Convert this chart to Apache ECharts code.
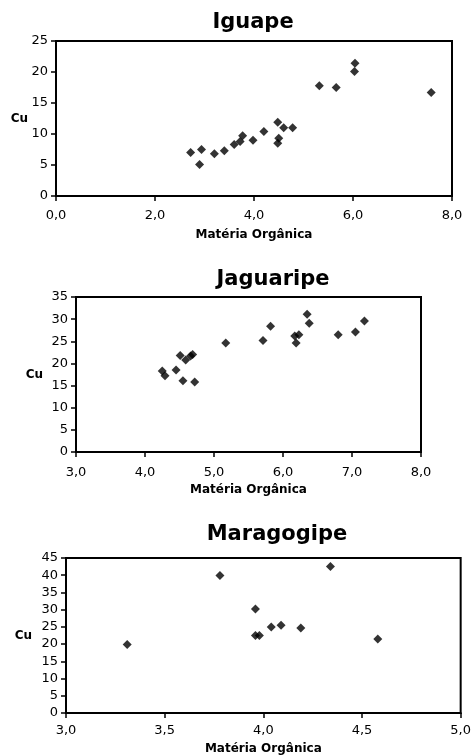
<!DOCTYPE html>
<html>
<head>
<meta charset="utf-8">
<script src="https://cdn.jsdelivr.net/npm/echarts@6/dist/echarts.min.js"></script>
<style>
html,body{margin:0;padding:0;background:#fff;}
#chart{width:474px;height:756px;}
</style>
</head>
<body>
<div id="chart"></div>
<script>
// ---- Data ----
const titles = ["Iguape", "Jaguaripe", "Maragogipe"];
const xAxisName = "Matéria Orgânica";
const yAxisName = "Cu";

const iguapeMO = [2.72, 2.90, 2.94, 3.20, 3.40, 3.60, 3.72, 3.77, 3.98, 4.20, 4.48, 4.50, 4.48, 4.60, 4.78, 5.32, 5.66, 6.04, 6.03, 7.58];
const iguapeCu = [7.0, 5.1, 7.5, 6.8, 7.3, 8.3, 8.8, 9.7, 9.0, 10.4, 11.9, 9.3, 8.5, 11.0, 11.0, 17.8, 17.5, 21.4, 20.1, 16.7];

const jaguaripeMO = [4.25, 4.29, 4.45, 4.51, 4.55, 4.59, 4.66, 4.69, 4.72, 5.17, 5.71, 5.82, 6.17, 6.19, 6.23, 6.35, 6.38, 6.80, 7.05, 7.18];
const jaguaripeCu = [18.3, 17.2, 18.5, 21.8, 16.1, 20.8, 21.7, 22.0, 15.8, 24.6, 25.2, 28.4, 26.2, 24.6, 26.5, 31.1, 29.1, 26.5, 27.1, 29.6];

const maragogipeMO = [3.31, 3.78, 3.96, 3.96, 3.98, 4.04, 4.09, 4.19, 4.34, 4.58];
const maragogipeCu = [19.9, 39.9, 30.2, 22.5, 22.5, 25.0, 25.5, 24.7, 42.5, 21.5];

// axis ranges / ticks
const xMin = [0, 3, 3], xMax = [8, 8, 5], xStep = [2, 1, 0.5];
const yMin = [0, 0, 0], yMax = [25, 35, 45], yStep = [5, 5, 5];

// ---- Build ----
const zip = (a, b) => a.map((v, i) => [v, b[i]]);
const seriesData = [zip(iguapeMO, iguapeCu), zip(jaguaripeMO, jaguaripeCu), zip(maragogipeMO, maragogipeCu)];

const grids = [
  {left: 56, top: 41, width: 396, height: 155},
  {left: 76, top: 297, width: 345, height: 155},
  {left: 66, top: 558, width: 395, height: 155}
];
const titlePos = [
  {left: 253, top: 12},
  {left: 273, top: 269},
  {left: 277, top: 524}
];
const yNameGap = [28, 33, 34];
const xLabelMargin = [13, 14, 11];
const xNameGap = [33, 32, 30];

const tickFont = {fontFamily: 'DejaVu Sans', fontSize: 13, color: '#000'};
const boldFont = {fontFamily: 'DejaVu Sans', fontWeight: 'bold', fontSize: 12, color: '#000'};
const fmt = v => v.toFixed(1).replace('.', ',');

const option = {
  backgroundColor: '#fff',
  animation: false,
  title: titles.map((t, i) => ({
    text: t,
    left: titlePos[i].left,
    top: titlePos[i].top,
    textAlign: 'center',
    padding: 0,
    textStyle: {fontFamily: 'DejaVu Sans', fontWeight: 'bold', fontSize: 21, color: '#000'}
  })),
  grid: grids.map(g => Object.assign({show: true, borderColor: '#000', borderWidth: 2, backgroundColor: '#fff'}, g)),
  xAxis: titles.map((t, i) => ({
    type: 'value',
    gridIndex: i,
    min: xMin[i], max: xMax[i], interval: xStep[i],
    name: xAxisName,
    nameLocation: 'middle',
    nameGap: xNameGap[i],
    nameMoveOverlap: false,
    nameTextStyle: boldFont,
    axisLine: {show: true, onZero: false, lineStyle: {color: '#000', width: 2}},
    axisTick: {show: true, inside: false, length: 5, lineStyle: {color: '#000', width: 1.5}},
    axisLabel: Object.assign({margin: xLabelMargin[i], formatter: fmt}, tickFont),
    splitLine: {show: false}
  })),
  yAxis: titles.map((t, i) => ({
    type: 'value',
    gridIndex: i,
    min: yMin[i], max: yMax[i], interval: yStep[i],
    name: yAxisName,
    nameLocation: 'middle',
    nameRotate: 0,
    nameGap: yNameGap[i],
    nameMoveOverlap: false,
    nameTextStyle: boldFont,
    axisLine: {show: true, onZero: false, lineStyle: {color: '#000', width: 2}},
    axisTick: {show: true, inside: false, length: 5, lineStyle: {color: '#000', width: 1.5}},
    axisLabel: Object.assign({margin: 8}, tickFont),
    splitLine: {show: false}
  })),
  series: seriesData.map((d, i) => ({
    type: 'scatter',
    xAxisIndex: i,
    yAxisIndex: i,
    symbol: 'diamond',
    symbolSize: 9,
    itemStyle: {color: '#000'},
    data: d
  }))
};

const chart = echarts.init(document.getElementById('chart'), null, {renderer: 'canvas'});
chart.setOption(option);
</script>
</body>
</html>
